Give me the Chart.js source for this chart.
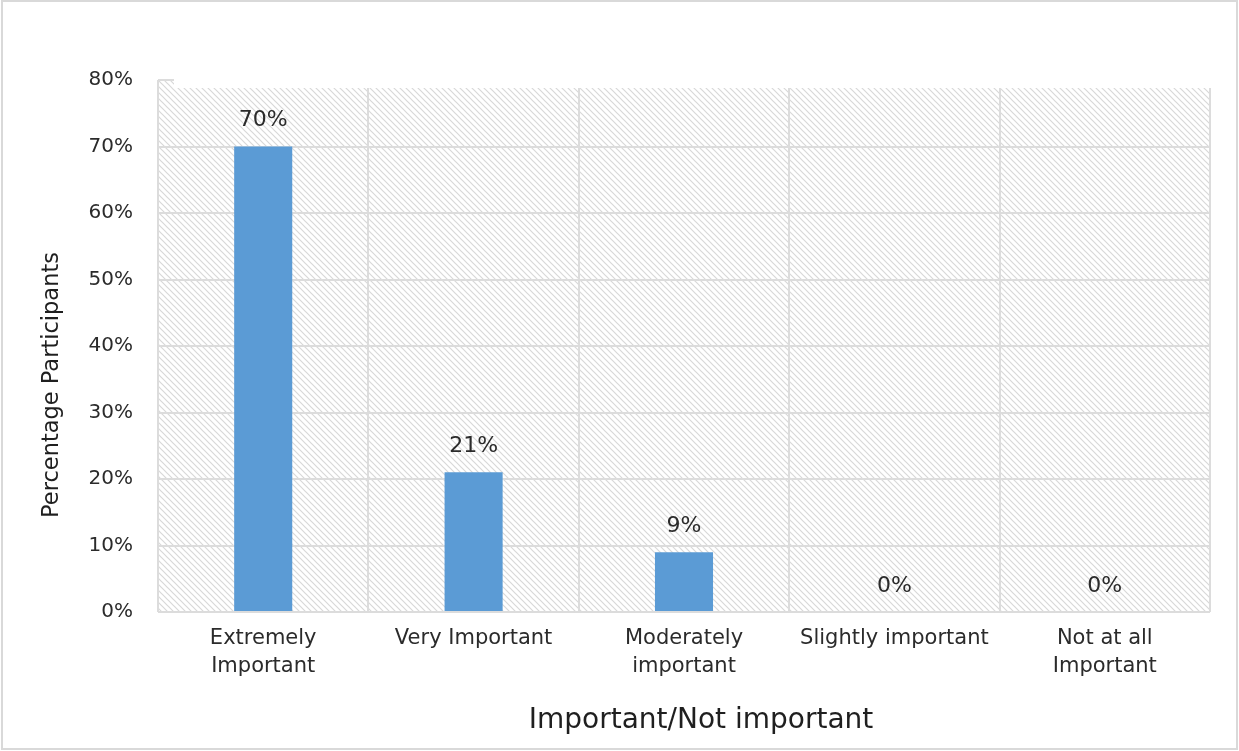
<!DOCTYPE html>
<html>
<head>
<meta charset="utf-8">
<title>Importance rating</title>
<script src="https://cdn.jsdelivr.net/npm/chart.js@4.4.1/dist/chart.umd.min.js"></script>
<style>
  html, body { margin: 0; padding: 0; background: #fff; }
  #wrap { width: 1239px; height: 751px; position: relative; }
</style>
</head>
<body>
<div id="wrap"><canvas id="chart"></canvas></div>
<script>
// categories and values (percent of participants)
const categories = [
    ['Extremely', 'Important'],
    'Very Important',
    ['Moderately', 'important'],
    'Slightly important',
    ['Not at all', 'Important']
];
const percentages = [70, 21, 9, 0, 0];
const yTicks = [0, 10, 20, 30, 40, 50, 60, 70, 80];
const xTitle = 'Important/Not important';
const yTitle = 'Percentage Participants';

const FONT = "'DejaVu Sans', Verdana, sans-serif";
const TEXT = '#2b2b2b';
const GRID = '#dcdcdc';

// diagonal hatch tile for the plot background
function makeHatch() {
    const s = 6;
    const c = document.createElement('canvas');
    c.width = s; c.height = s;
    const g = c.getContext('2d');
    g.strokeStyle = '#d8d8d8';
    g.lineWidth = 1.2;
    g.beginPath();
    g.moveTo(-1, -1); g.lineTo(s + 1, s + 1);
    g.moveTo(-s - 1, -1); g.lineTo(1, s + 1);
    g.moveTo(s - 1, -1); g.lineTo(2 * s + 1, s + 1);
    g.stroke();
    return g.createPattern(c, 'repeat');
}

const backdrop = {
    id: 'backdrop',
    beforeDraw(chart) {
        const ctx = chart.ctx;
        const a = chart.chartArea;
        ctx.save();
        ctx.fillStyle = '#fff';
        ctx.fillRect(0, 0, chart.width, chart.height);
        ctx.fillStyle = makeHatch();
        ctx.fillRect(a.left, a.top, a.right - a.left, a.bottom - a.top);
        // outer frame
        ctx.strokeStyle = '#d9d9d9';
        ctx.lineWidth = 2;
        ctx.strokeRect(2, 1, chart.width - 4, chart.height - 3);
        ctx.restore();
    },
    beforeDatasetsDraw(chart) {
        // the plot fill starts a little below the top tick, apart from a short stub at the left
        const ctx = chart.ctx;
        const a = chart.chartArea;
        ctx.save();
        ctx.fillStyle = '#fff';
        ctx.fillRect(a.left + 16, a.top - 2, a.right - a.left, 10);
        ctx.restore();
    }
};

// value labels above each bar, plus the axis titles
const textLayer = {
    id: 'textLayer',
    afterDatasetsDraw(chart) {
        const ctx = chart.ctx;
        const meta = chart.getDatasetMeta(0);
        ctx.save();
        ctx.font = '22px ' + FONT;
        ctx.fillStyle = TEXT;
        ctx.textAlign = 'center';
        ctx.textBaseline = 'middle';
        meta.data.forEach((bar, i) => {
            ctx.fillText(percentages[i] + '%', bar.x, bar.y - 26);
        });
        ctx.restore();
    },
    afterDraw(chart) {
        const ctx = chart.ctx;
        ctx.save();
        ctx.fillStyle = '#1f1f1f';
        ctx.textAlign = 'center';
        ctx.textBaseline = 'middle';
        ctx.font = '28px ' + FONT;
        ctx.fillText(xTitle, 701, 721);
        ctx.translate(52, 385);
        ctx.rotate(-Math.PI / 2);
        ctx.font = '22.5px ' + FONT;
        ctx.fillText(yTitle, 0, 0);
        ctx.restore();
    }
};

const ctx = document.getElementById('chart').getContext('2d');
new Chart(ctx, {
    type: 'bar',
    data: {
        labels: categories,
        datasets: [{
            data: percentages,
            backgroundColor: '#5b9bd5',
            borderWidth: 0,
            categoryPercentage: 1,
            barPercentage: 0.276
        }]
    },
    options: {
        responsive: true,
        maintainAspectRatio: false,
        animation: false,
        layout: { padding: { top: 80, right: 29, left: 0, bottom: 0 } },
        plugins: {
            legend: { display: false },
            tooltip: { enabled: false }
        },
        scales: {
            x: {
                grid: { color: GRID, lineWidth: 2, offset: true, drawTicks: false },
                border: { display: false },
                ticks: {
                    color: TEXT,
                    font: { family: FONT, size: 21, lineHeight: 1.35 },
                    padding: 12,
                    maxRotation: 0,
                    autoSkip: false
                },
                afterFit(scale) { scale.height = 139; }
            },
            y: {
                min: 0,
                max: 80,
                afterBuildTicks(scale) {
                    scale.ticks = yTicks.map(v => ({ value: v }));
                },
                grid: { color: GRID, lineWidth: 2, drawTicks: false },
                border: { display: false },
                ticks: {
                    color: TEXT,
                    font: { family: FONT, size: 20 },
                    padding: 25,
                    callback: v => v + '%'
                },
                afterFit(scale) { scale.width = 158; }
            }
        }
    },
    plugins: [backdrop, textLayer]
});
</script>
</body>
</html>
